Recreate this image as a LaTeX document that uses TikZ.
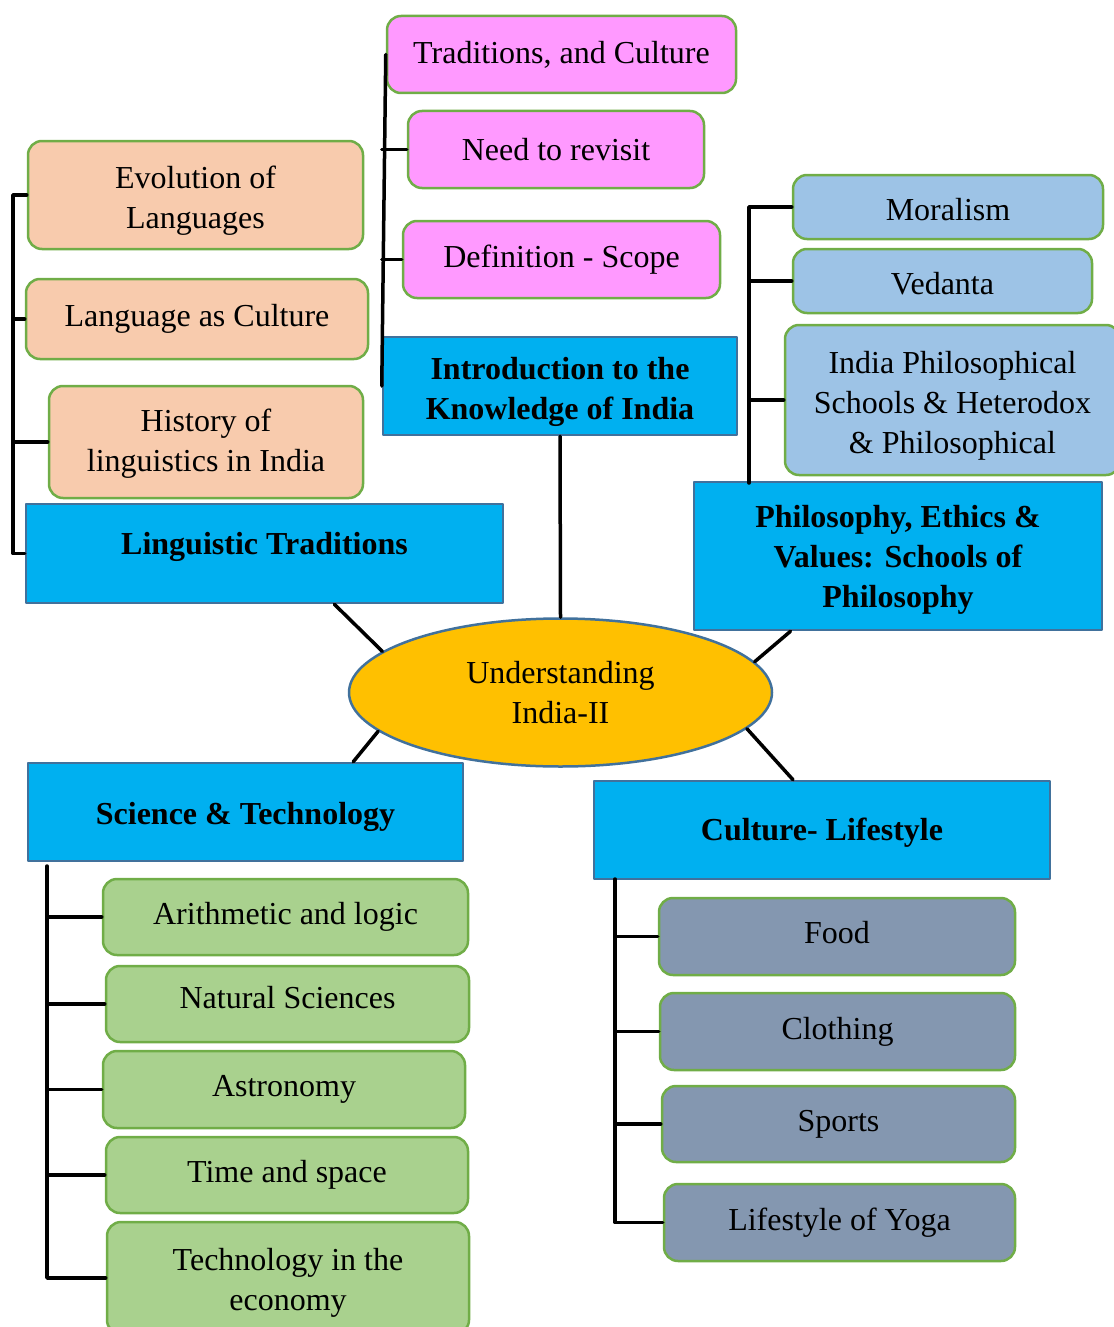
\documentclass[tikz,border=0pt]{standalone}
\usepackage{fontspec}
\setmainfont{Liberation Serif}
\usetikzlibrary{shapes.geometric}

\definecolor{headblue}{HTML}{00B0F0}
\definecolor{headline}{HTML}{41719C}
\definecolor{leafline}{HTML}{70AD47}
\definecolor{peachfill}{HTML}{F8CBAD}
\definecolor{pinkfill}{HTML}{FF99FF}
\definecolor{skyfill}{HTML}{9DC3E6}
\definecolor{greenfill}{HTML}{A9D18E}
\definecolor{slatefill}{HTML}{8497B0}
\definecolor{goldfill}{HTML}{FFC000}

\newcommand{\padtop}[1]{\rule{0pt}{#1}}

\begin{document}
\begin{tikzpicture}[line cap=round, line join=round, x=1pt, y=-1pt,
            every node/.style={font=\fontsize{32}{40}\selectfont, align=center, inner sep=0pt},
            head/.style={draw=headline, fill=headblue, line width=2.5pt, font=\fontsize{32}{40}\selectfont\bfseries},
            leaf/.style={draw=leafline, line width=2.5pt, rounded corners=14pt},
            conn/.style={line width=3.5pt}]

            \useasboundingbox (0,0) rectangle (1113,1327);

            \node[ellipse, draw=headline, fill=goldfill, line width=2.5pt, minimum width=423pt, minimum height=148pt] (centre) at (560.5,692.5) {Understanding\\India-II};

            \node[head, minimum width=354pt, minimum height=98pt] (intro) at (560,386) {\padtop{34pt}Introduction to the\\Knowledge of India};
            \node[leaf, fill=pinkfill, minimum width=349pt, minimum height=77pt] (trad) at (561.5,54.5) {Traditions, and Culture};
            \node[leaf, fill=pinkfill, minimum width=296pt, minimum height=77pt] (need) at (556,149.5) {Need to revisit};
            \node[leaf, fill=pinkfill, minimum width=317pt, minimum height=77pt] (defn) at (561.5,259.5) {Definition - Scope};

            \node[head, minimum width=477pt, minimum height=99pt, text depth=20pt] (ling) at (264.5,553.5) {Linguistic Traditions};
            \node[leaf, fill=peachfill, minimum width=335pt, minimum height=108pt] (evol) at (195.5,195) {\padtop{34pt}Evolution of\\Languages};
            \node[leaf, fill=peachfill, minimum width=342pt, minimum height=80pt] (langc) at (197,319) {Language as Culture};
            \node[leaf, fill=peachfill, minimum width=314pt, minimum height=112pt] (hist) at (206,442) {\padtop{26pt}History of\\linguistics in India};

            \node[head, minimum width=408pt, minimum height=148pt] (phil) at (898,556) {\padtop{30pt}Philosophy, Ethics \&\\Values: Schools of\\Philosophy};
            \node[leaf, fill=skyfill, minimum width=310pt, minimum height=64pt] (moral) at (948,207) {\padtop{28pt}Moralism};
            \node[leaf, fill=skyfill, minimum width=299pt, minimum height=64pt] (vedanta) at (942.5,281) {\padtop{28pt}Vedanta};
            \node[leaf, fill=skyfill, minimum width=335pt, minimum height=150pt] (iphil) at (952.5,400) {\padtop{34pt}India Philosophical\\Schools \& Heterodox\\\& Philosophical};

            \node[head, minimum width=435pt, minimum height=98pt] (sci) at (245.5,812) {\padtop{32pt}Science \& Technology};
            \node[leaf, fill=greenfill, minimum width=365pt, minimum height=76pt] (arith) at (285.5,917) {Arithmetic and logic};
            \node[leaf, fill=greenfill, minimum width=363pt, minimum height=76pt, text depth=13pt] (natsci) at (287.5,1004) {Natural Sciences};
            \node[leaf, fill=greenfill, minimum width=362pt, minimum height=77pt] (astro) at (284,1089.5) {Astronomy};
            \node[leaf, fill=greenfill, minimum width=362pt, minimum height=76pt] (timesp) at (287,1175) {Time and space};
            \node[leaf, fill=greenfill, minimum width=362pt, minimum height=112pt] (tech) at (288,1278) {\padtop{32pt}Technology in the\\economy};

            \node[head, minimum width=456pt, minimum height=98pt] (cult) at (822,830) {\padtop{28pt}Culture- Lifestyle};
            \node[leaf, fill=slatefill, minimum width=356pt, minimum height=77pt, text depth=8pt] (food) at (837,936.5) {Food};
            \node[leaf, fill=slatefill, minimum width=355pt, minimum height=77pt] (cloth) at (837.5,1031.5) {Clothing};
            \node[leaf, fill=slatefill, minimum width=353pt, minimum height=76pt] (sports) at (838.5,1124) {Sports};
            \node[leaf, fill=slatefill, minimum width=351pt, minimum height=77pt] (yoga) at (839.5,1222.5) {Lifestyle of Yoga};

            \coordinate (lbar) at (13,194);
            \coordinate (pbar) at (749,483);
            \coordinate (sbar) at (47,866);
            \coordinate (cbar) at (615,879);

            \draw[conn] (trad.west) -- (intro.west);
            \draw[conn] (need.west) -- (need.west -| intro.west);
            \draw[conn] (defn.west) -- (defn.west -| intro.west);

            \draw[conn] (evol.west) -| (lbar |- ling.west) -- (ling.west);
            \draw[conn] (langc.west) -- (langc.west -| lbar);
            \draw[conn] (hist.west) -- (hist.west -| lbar);

            \draw[conn] (moral.west) -| (pbar);
            \draw[conn] (vedanta.west) -- (vedanta.west -| pbar);
            \draw[conn] (iphil.west) -- (iphil.west -| pbar);

            \draw[conn] (sbar) |- (tech.west);
            \draw[conn] (arith.west) -- (arith.west -| sbar);
            \draw[conn] (natsci.west) -- (natsci.west -| sbar);
            \draw[conn] (astro.west) -- (astro.west -| sbar);
            \draw[conn] (timesp.west) -- (timesp.west -| sbar);

            \draw[conn] (cbar) |- (yoga.west);
            \draw[conn] (food.west) -- (food.west -| cbar);
            \draw[conn] (cloth.west) -- (cloth.west -| cbar);
            \draw[conn] (sports.west) -- (sports.west -| cbar);

            \draw[conn] (intro.south) -- (centre.north);
            \draw[conn] (ling.-36) -- (centre.167);
            \draw[conn] (phil.215) -- (centre.9);
            \draw[conn] (sci.25) -- (centre.192);
            \draw[conn] (cult.120) -- (centre.-11);

        \end{tikzpicture}
\end{document}
